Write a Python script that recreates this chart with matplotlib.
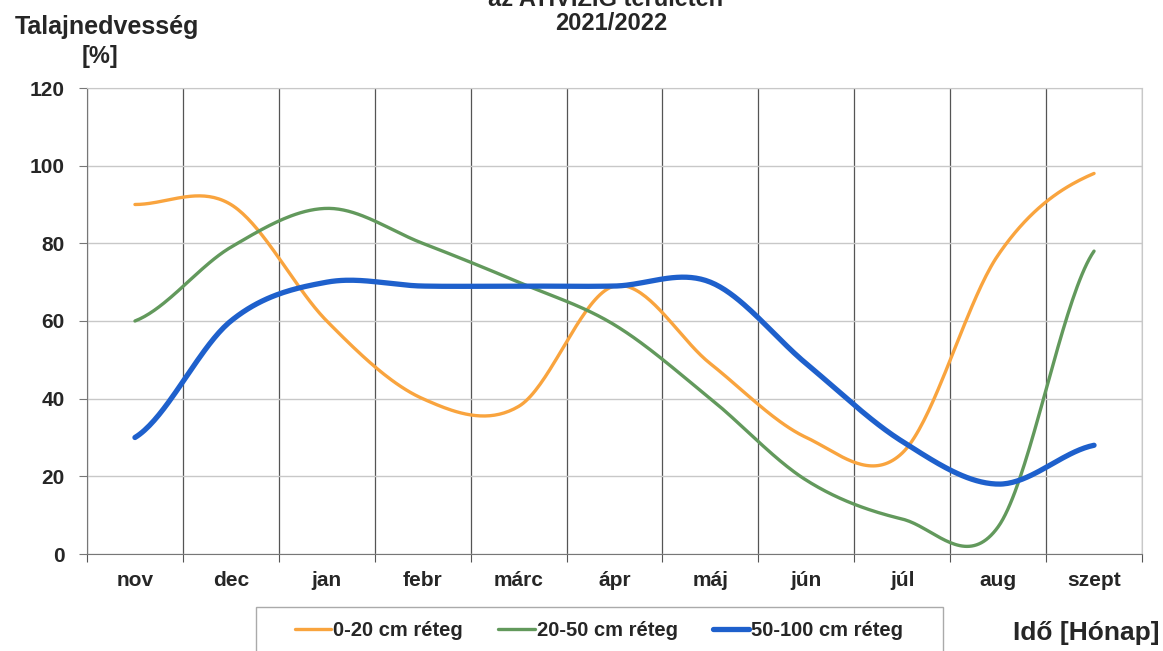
import matplotlib.pyplot as plt
from matplotlib.patches import Rectangle
import numpy as np

months = ["nov", "dec", "jan", "febr", "márc", "ápr", "máj", "jún", "júl", "aug", "szept"]
layer_0_20 = [90, 90, 60, 40, 38, 69, 49, 30, 26, 77, 98]
layer_20_50 = [60, 79, 89, 80, 70, 59, 40, 19, 9, 7, 78]
layer_50_100 = [30, 60, 70, 69, 69, 69, 70, 49, 29, 18, 28]
series_labels = ["0-20 cm réteg", "20-50 cm réteg", "50-100 cm réteg"]
yticks = [0, 20, 40, 60, 80, 100, 120]

FONT = ["Liberation Sans", "DejaVu Sans"]
plt.rcParams["font.family"] = FONT
TXT = "#262626"
W, H = 1163, 651


def smooth(values, steps=40):
    # Excel-style smoothed line: Catmull-Rom through the data points
    y = np.asarray(values, dtype=float)
    n = len(y)
    m = np.empty(n)
    m[1:-1] = (y[2:] - y[:-2]) / 2
    m[0] = (y[1] - y[0]) / 2
    m[-1] = (y[-1] - y[-2]) / 2
    xs, ys = [], []
    t = np.linspace(0, 1, steps, endpoint=False)
    for i in range(n - 1):
        h00 = 2 * t**3 - 3 * t**2 + 1
        h10 = t**3 - 2 * t**2 + t
        h01 = -2 * t**3 + 3 * t**2
        h11 = t**3 - t**2
        xs.append(i + t)
        ys.append(h00 * y[i] + h10 * m[i] + h01 * y[i + 1] + h11 * m[i + 1])
    xs.append([n - 1])
    ys.append([y[-1]])
    return np.concatenate(xs), np.concatenate(ys)


fig = plt.figure(figsize=(W / 100, H / 100), dpi=100)
ax = fig.add_axes([87 / W, 1 - 554 / H, (1142 - 87) / W, (554 - 88) / H])

x = np.arange(len(months))
styles = [("#F9A43E", 2.4), ("#62995C", 2.4), ("#1E60CC", 3.8)]
handles = []
for vals, label, (col, lw) in zip([layer_0_20, layer_20_50, layer_50_100], series_labels, styles):
    sx, sy = smooth(vals)
    h, = ax.plot(sx, sy, color=col, lw=lw, solid_capstyle="round", label=label, zorder=3)
    handles.append(h)

ax.set_xlim(-0.5, len(months) - 0.5)
ax.set_ylim(0, 120)
ax.set_yticks(yticks)
ax.set_yticklabels([str(v) for v in yticks], fontsize=15, fontweight="bold", color=TXT)
ax.set_xticks(x)
ax.set_xticklabels(months, fontsize=15, fontweight="bold", color=TXT)
ax.tick_params(axis="x", length=0, pad=12)
ax.tick_params(axis="y", length=6, width=0.8, color="#777777", pad=10)
ax.set_xticks(np.arange(len(months) + 1) - 0.5, minor=True)
ax.tick_params(axis="x", which="minor", length=6, width=0.8, color="#555555")
ax.grid(axis="y", color="#c8c8c8", lw=1.0)
ax.grid(axis="x", which="minor", color="#555555", lw=0.9)
ax.grid(axis="x", which="major", visible=False)
ax.set_axisbelow(True)
for side in ["top", "right"]:
    ax.spines[side].set_color("#c8c8c8")
for side in ["left", "bottom"]:
    ax.spines[side].set_color("#777777")

fig.text(107 / W, 1 - 27 / H, "Talajnedvesség", fontsize=18, fontweight="bold", color=TXT, ha="center", va="center")
fig.text(100 / W, 1 - 57 / H, "[%]", fontsize=17, fontweight="bold", color=TXT, ha="center", va="center")
fig.text(606 / W, 1 + 1 / H, "az ATIVIZIG területén", fontsize=17, fontweight="bold", color=TXT, ha="center", va="center")
fig.text(611 / W, 1 - 23 / H, "2021/2022", fontsize=17, fontweight="bold", color=TXT, ha="center", va="center")
fig.text(1086 / W, 1 - 633 / H, "Idő [Hónap]", fontsize=19, fontweight="bold", color=TXT, ha="center", va="center")

fig.patches.append(Rectangle((256 / W, -0.05), (943 - 256) / W, 0.05 + 1 - 607 / H,
                             transform=fig.transFigure, facecolor="white", edgecolor="#aaaaaa", lw=1.0))
leg = fig.legend(handles=handles, loc="center left", bbox_to_anchor=(295 / W, 1 - 631 / H),
                 ncol=3, frameon=False, handlelength=1.8, handletextpad=0.1, columnspacing=1.75,
                 borderpad=0, borderaxespad=0,
                 prop={"family": FONT, "size": 14.5, "weight": "bold"})
for t in leg.get_texts():
    t.set_color(TXT)

fig.savefig("out.png", dpi=100)
